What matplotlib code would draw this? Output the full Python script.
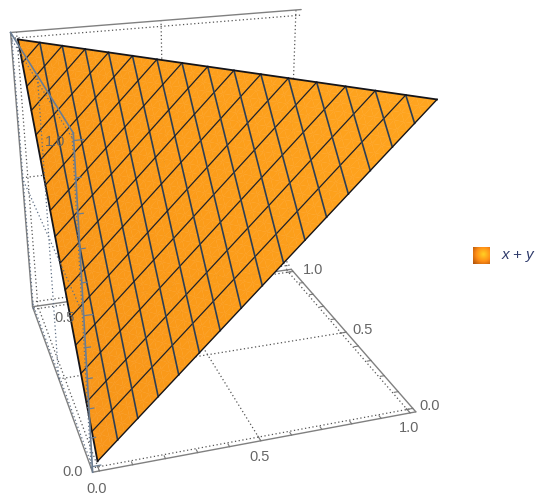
import numpy as np
import matplotlib
matplotlib.use('Agg')
import matplotlib.pyplot as plt
from matplotlib.collections import PolyCollection
from matplotlib.colors import LinearSegmentedColormap

# valores do grafico
mesh_vals = [i / 16 for i in range(1, 16)]
tick_major = [0.0, 0.5, 1.0]
tick_minor = [0.1, 0.2, 0.3, 0.4, 0.6, 0.7, 0.8, 0.9]
grid_vals = [0.0, 0.5, 1.0]
legend_label = 'x + y'

# a caixa passa um pouco do intervalo [0, 1]
b0, b1 = -0.02, 1.02

# camera: pontos (x, y, z) e onde aparecem na imagem
cam_3d = np.array([[b0, b0, b0], [b1, b0, b0], [b1, b1, b0], [b0, b1, b0],
                   [b0, b0, b1], [b1, b1, b1], [b0, b1, b1],
                   [0, 0, 0], [1, 0, 1], [0, 1, 1], [0.5, 0.5, 1],
                   [1 / 16, 0, 1 / 16], [0.5, b0, b0], [b1, 0.5, b0]], float)
cam_px = np.array([[93, 471], [417, 410], [293, 272], [32, 305],
                   [72, 136], [298, 9], [12, 32],
                   [97, 463], [438, 99], [18, 39], [210, 66],
                   [117, 442], [260, 438], [345, 333]], float)


def ajustar_camera(p3, p2):
    linhas = []
    for (x, y, z), (u, v) in zip(p3, p2):
        linhas.append([x, y, z, 1, 0, 0, 0, 0, -u*x, -u*y, -u*z, -u])
        linhas.append([0, 0, 0, 0, x, y, z, 1, -v*x, -v*y, -v*z, -v])
    _, _, vt = np.linalg.svd(np.array(linhas))
    return vt[-1].reshape(3, 4)


P = ajustar_camera(cam_3d, cam_px)


def proj(x, y, z):
    x, y, z = np.broadcast_arrays(np.asarray(x, float), np.asarray(y, float), np.asarray(z, float))
    pts = np.stack([x, y, z, np.ones_like(x)], axis=-1) @ P.T
    return pts[..., 0] / pts[..., 2], pts[..., 1] / pts[..., 2]


def linha(ax, a, b, **kw):
    t = np.linspace(0, 1, 40)
    a, b = np.array(a), np.array(b)
    pts = a[None, :] + t[:, None] * (b - a)[None, :]
    u, v = proj(pts[:, 0], pts[:, 1], pts[:, 2])
    ax.plot(u, v, **kw)


fig = plt.figure(figsize=(5.5, 5.04), dpi=100)
ax = fig.add_axes([0, 0, 1, 1])
ax.set_xlim(0, 550)
ax.set_ylim(504, 0)
ax.axis('off')

box_kw = dict(color='#808080', lw=1.0, solid_capstyle='round', zorder=2)
dot_kw = dict(color='#555555', lw=0.9, ls=(0, (1, 2)), zorder=1)
dot_sobre = dict(color='#5f6f85', lw=0.9, ls=(0, (1, 2)), zorder=6)

# arestas da caixa
linha(ax, (b0, b0, b0), (b1, b0, b0), **box_kw)
linha(ax, (b1, b0, b0), (b1, b1, b0), **box_kw)
linha(ax, (b1, b1, b0), (b0, b1, b0), **box_kw)
linha(ax, (b0, b1, b0), (b0, b0, b0), **box_kw)
linha(ax, (b0, b1, b0), (b0, b1, b1), **box_kw)
linha(ax, (b0, b1, b1), (b1, b1, b1), **box_kw)

# grades pontilhadas nas faces da caixa
for g in grid_vals:
    linha(ax, (g, b0, b0), (g, b1, b0), **dot_kw)
    linha(ax, (b0, g, b0), (b1, g, b0), **dot_kw)
    linha(ax, (g, b1, b0), (g, b1, b1), **dot_kw)
    linha(ax, (b0, b1, g), (b1, b1, g), **dot_kw)
    linha(ax, (b0, g, b0), (b0, g, b1), **dot_sobre)
    linha(ax, (b0, b0, g), (b0, b1, g), **dot_sobre)

# superficie z = x + y em x + y <= 1
n = 48
cmap = LinearSegmentedColormap.from_list('laranja', ['#f5921a', '#fb9b19', '#ffa51f'])
polys, cores = [], []
for i in range(n):
    for j in range(n - i):
        tri = [((i, j), (i + 1, j), (i, j + 1))]
        if i + j < n - 1:
            tri.append(((i + 1, j), (i + 1, j + 1), (i, j + 1)))
        for t in tri:
            xs = np.array([p[0] for p in t]) / n
            ys = np.array([p[1] for p in t]) / n
            u, v = proj(xs, ys, xs + ys)
            polys.append(np.column_stack([u, v]))
            cores.append(xs.mean() + 0.25 * ys.mean() + 0.25)
pc = PolyCollection(polys, array=np.array(cores), cmap=cmap, clim=(0, 1.25),
                    edgecolors='face', linewidths=0.3, zorder=3)
ax.add_collection(pc)

# malha
for m in mesh_vals:
    linha(ax, (m, 0, m), (m, 1 - m, 1), color='#2d3f55', lw=1.2, zorder=4)
    linha(ax, (0, m, m), (1 - m, m, 1), color='#1d2029', lw=0.9, zorder=4)

# borda do triangulo
linha(ax, (0, 1, 1), (1, 0, 1), color='#15151a', lw=1.3, zorder=5)
linha(ax, (0, 0, 0), (0, 1, 1), color='#15151a', lw=1.3, zorder=5)
linha(ax, (0, 0, 0), (1, 0, 1), color='#15151a', lw=1.0, zorder=5)

# eixo z e aresta que aparecem por cima da superficie
sobre = dict(color='#6b7d92', lw=1.2, zorder=6)
linha(ax, (b0, b0, b0), (b0, b0, b1), **sobre)
linha(ax, (b0, b0, b1), (b0, b1, b1), **sobre)

# marcas dos eixos
for t in tick_major + tick_minor:
    d = 0.025 if t in tick_major else 0.014
    linha(ax, (t, b0, b0), (t, b0 + d, b0), color='#777777', lw=0.8, zorder=2)
    linha(ax, (b1, t, b0), (b1 - d, t, b0), color='#777777', lw=0.8, zorder=2)
    linha(ax, (b0, b0, t), (b0 + d, b0, t), color='#6b7d92', lw=0.9, zorder=6)

# rotulos
txt = dict(fontsize=10.5, color='#666666', family='Liberation Sans', ha='center', va='center', zorder=7)
for t, uv in zip(tick_major, [(97, 489), (260, 457), (409, 428)]):
    ax.text(uv[0], uv[1], f'{t:.1f}', **txt)
for t, uv in zip(tick_major, [(430, 406), (363, 330), (313, 270)]):
    ax.text(uv[0], uv[1], f'{t:.1f}', **txt)
for t, uv in zip(tick_major, [(73, 472), (65, 318), (55, 142)]):
    ax.text(uv[0], uv[1], f'{t:.1f}', **txt)

# legenda
g = np.linspace(0, 1, 32)
gx, gy = np.meshgrid(g, g)
dist = np.hypot(gx - 0.62, gy - 0.42)
leg = np.clip(1 - 1.0 * dist, 0, 1)
cores_leg = np.dstack([0.55 + 0.45 * np.clip(leg * 1.8, 0, 1), 0.22 + 0.6 * leg, 0.02 + 0.12 * leg])
ax.imshow(cores_leg, extent=(473, 490, 264, 247), zorder=7, aspect='auto')
ax.set_xlim(0, 550)
ax.set_ylim(504, 0)
ax.text(502, 255, legend_label, fontsize=11, style='italic', color='#2f3b6b',
        family='Liberation Sans', ha='left', va='center', zorder=7)

fig.savefig('out.png', dpi=100)
